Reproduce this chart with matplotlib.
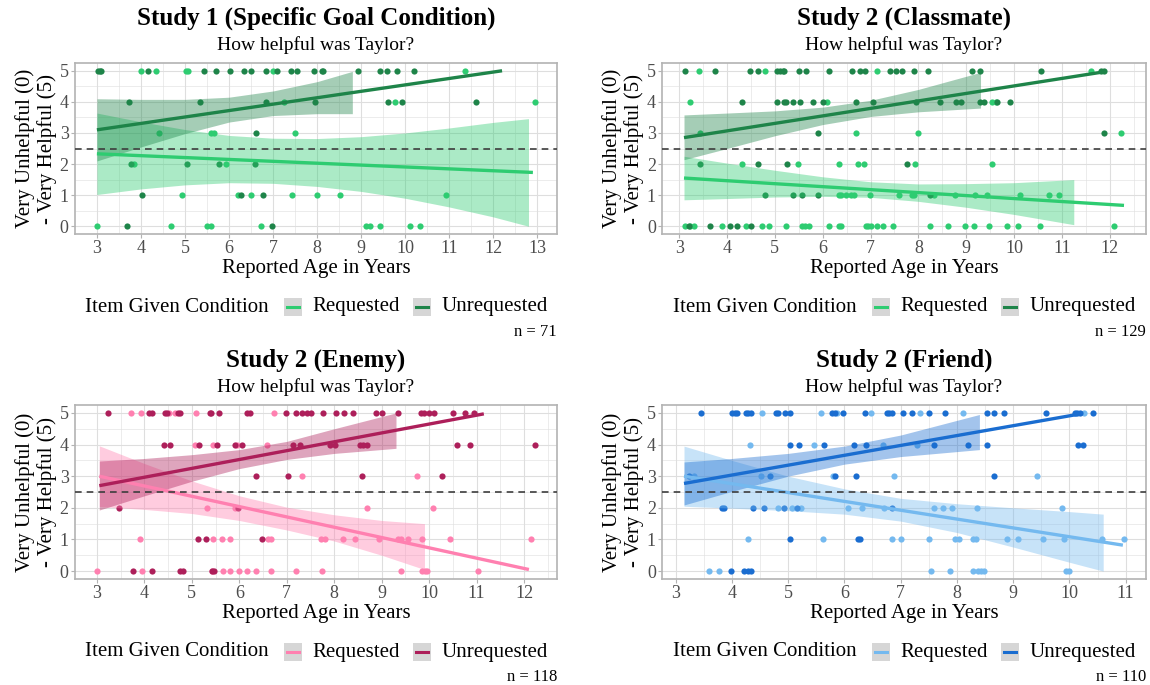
import numpy as np
import matplotlib.pyplot as plt
from matplotlib.patches import Rectangle
from matplotlib.lines import Line2D

plt.rcParams['font.family'] = ['Liberation Serif', 'DejaVu Serif']

# ---- Study 1 (Specific Goal Condition) ----
s1_req_age = [4.0, 4.34, 5.02, 5.07, 6.99, 11.35,
              7.25, 9.77, 12.95,
              4.42, 5.6, 5.67, 7.5,
              3.84, 5.93,
              4.93, 6.2, 6.5, 7.42, 8.0, 8.53, 10.93,
              3.0, 4.68, 5.5, 5.58, 6.73, 9.12, 9.2, 9.42, 10.1, 10.34]
s1_req_help = [5] * 6 + [4] * 3 + [3] * 4 + [2] * 2 + [1] * 7 + [0] * 10
s1_unr_age = [3.02, 3.06, 3.1, 4.16, 5.43, 5.7, 6.03, 6.34, 6.5, 6.84, 7.1,
              7.4, 7.54, 7.93, 8.1, 8.14, 8.93, 9.43, 9.59, 9.82, 10.19,
              3.72, 5.35, 6.85, 7.95, 9.6, 9.93, 11.6,
              6.62,
              3.78, 5.04, 5.77, 6.6,
              4.02, 6.28, 6.77,
              3.68, 6.98]
s1_unr_help = [5] * 21 + [4] * 7 + [3] * 1 + [2] * 4 + [1] * 3 + [0] * 2
s1_req_line_x = [3.0, 12.9]
s1_req_line_y = [2.33, 1.73]
s1_req_band_x = [3.0, 4, 5, 6, 7, 8, 9, 10, 11, 12, 12.8]
s1_req_band_lo = [1.02, 1.2, 1.33, 1.4, 1.38, 1.28, 1.12, 0.9, 0.62, 0.3, 0.0]
s1_req_band_hi = [3.64, 3.36, 3.11, 2.92, 2.83, 2.82, 2.88, 3.0, 3.16, 3.34, 3.46]
s1_unr_line_x = [3.0, 12.2]
s1_unr_line_y = [3.1, 5.0]
s1_unr_band_x = [3.0, 4, 5, 6, 7, 8, 8.8]
s1_unr_band_lo = [2.1, 2.55, 2.98, 3.35, 3.56, 3.62, 3.62]
s1_unr_band_hi = [4.1, 4.08, 4.08, 4.15, 4.35, 4.65, 4.98]

# ---- Study 2 (Classmate) ----
s2_req_age = [3.41, 4.8, 7.14, 11.6,
              3.23, 6.1, 9.54, 9.62,
              3.44, 6.69, 8.0, 12.23,
              4.32, 5.49, 6.35, 6.73, 6.87, 7.92, 9.54,
              6.35, 6.39, 6.48, 6.59, 6.65, 6.98, 7.59, 7.86, 7.91, 8.32,
              8.77, 9.19, 9.43, 10.13, 10.74, 10.94,
              3.12, 3.23, 3.3, 3.89, 4.39, 4.73, 4.88, 5.24, 5.56, 5.64,
              5.71, 6.13, 6.35, 6.39, 6.91, 6.95, 7.0, 7.14, 7.26, 7.46,
              8.25, 8.62, 8.98, 9.17, 9.47, 9.86, 10.08, 10.54, 12.1]
s2_req_help = [5] * 4 + [4] * 4 + [3] * 4 + [2] * 7 + [1] * 16 + [0] * 29
s2_unr_age = [3.12, 3.75, 4.49, 4.65, 5.05, 5.11, 5.17, 5.2, 5.5, 5.65, 6.14,
              6.62, 6.77, 6.89, 7.4, 7.53, 7.66, 7.91, 8.2, 9.13, 9.28,
              10.56, 11.82, 11.88,
              4.32, 5.05, 5.2, 5.24, 5.38, 5.53, 5.79, 6.01, 6.69, 7.05,
              7.95, 8.45, 8.79, 8.89, 9.28, 9.38, 9.65, 9.92,
              5.9, 11.89,
              3.44, 4.65, 5.26, 7.76,
              4.8, 5.38, 5.56, 5.9, 8.25,
              3.2, 3.64, 4.06, 4.21, 4.51]
s2_unr_help = [5] * 24 + [4] * 18 + [3] * 2 + [2] * 4 + [1] * 5 + [0] * 5
s2_req_line_x = [3.1, 12.3]
s2_req_line_y = [1.55, 0.67]
s2_req_band_x = [3.1, 4, 5, 6, 7, 8, 9, 10, 11.25]
s2_req_band_lo = [0.85, 0.89, 0.94, 0.96, 0.93, 0.8, 0.61, 0.38, 0.05]
s2_req_band_hi = [2.25, 2.03, 1.8, 1.59, 1.43, 1.36, 1.37, 1.4, 1.5]
s2_unr_line_x = [3.1, 11.9]
s2_unr_line_y = [2.85, 4.97]
s2_unr_band_x = [3.1, 4, 5, 6, 7, 8, 9.3]
s2_unr_band_lo = [2.14, 2.5, 2.91, 3.27, 3.53, 3.68, 3.8]
s2_unr_band_hi = [3.58, 3.64, 3.71, 3.83, 4.05, 4.4, 4.95]

# ---- Study 2 (Enemy) ----
s3_req_age = [3.72, 3.93, 4.51, 4.65, 5.09, 6.74,
              5.07, 5.45, 5.96, 6.59,
              7.31, 9.75,
              5.31, 5.9, 8.68, 10.08,
              3.9, 5.45, 5.64, 5.81, 6.61, 6.66, 7.73, 7.8, 8.18, 8.43,
              8.94, 9.35, 9.4, 9.55, 9.84, 10.44, 12.15,
              3.0, 3.94, 5.43, 5.65, 5.8, 5.99, 6.17, 6.36, 6.66, 7.19,
              7.75, 9.4, 9.84, 9.91, 9.95, 11.02]
s3_req_help = [5] * 6 + [4] * 4 + [3] * 2 + [2] * 4 + [1] * 17 + [0] * 16
s3_unr_age = [3.24, 4.1, 4.15, 4.44, 4.48, 4.7, 4.74, 5.39, 5.41, 5.58, 6.17,
              6.23, 6.99, 7.2, 7.31, 7.42, 7.5, 7.76, 8.03, 8.2, 8.39, 8.87,
              9.0, 9.34, 9.82, 9.89, 9.99, 10.1, 10.5, 10.75, 10.94,
              4.41, 4.53, 5.16, 5.54, 5.9, 6.05, 7.14, 7.27, 7.9, 8.01,
              8.55, 8.6, 8.68, 10.58, 10.86, 12.23,
              6.36, 7.02, 8.59, 10.27,
              3.47, 5.98,
              5.12, 5.29, 6.47,
              3.75, 4.15, 4.74, 4.82, 5.43, 5.47]
s3_unr_help = [5] * 31 + [4] * 16 + [3] * 4 + [2] * 2 + [1] * 3 + [0] * 6
s3_req_line_x = [3.05, 12.1]
s3_req_line_y = [3.0, 0.05]
s3_req_band_x = [3.05, 4, 5, 6, 7, 8, 9, 9.9]
s3_req_band_lo = [2.04, 1.95, 1.82, 1.6, 1.3, 0.95, 0.5, 0.05]
s3_req_band_hi = [3.96, 3.4, 2.85, 2.38, 2.02, 1.78, 1.6, 1.5]
s3_unr_line_x = [3.05, 11.15]
s3_unr_line_y = [2.7, 4.97]
s3_unr_band_x = [3.05, 4, 5, 6, 7, 8, 9.3]
s3_unr_band_lo = [1.93, 2.38, 2.84, 3.24, 3.53, 3.72, 3.88]
s3_unr_band_hi = [3.48, 3.56, 3.68, 3.84, 4.1, 4.5, 5.0]

# ---- Study 2 (Friend) ----
s4_req_age = [4.53, 5.58, 5.87, 6.47, 7.34, 8.1, 10.26,
              4.32, 5.46, 6.68, 7.29,
              3.33, 4.52, 5.79, 6.89, 9.42,
              4.82, 5.07, 5.23, 6.06, 6.31, 6.71, 7.59, 7.76, 7.92, 8.35, 9.87,
              4.29, 5.62, 6.85, 7.0, 7.51, 7.97, 8.03, 8.29, 8.34, 8.89,
              9.08, 9.53, 9.91, 10.58, 10.97,
              3.59, 3.78, 7.54, 7.87, 8.29, 8.38, 8.43, 8.48, 9.94, 9.99]
s4_req_help = [5] * 7 + [4] * 4 + [3] * 5 + [2] * 11 + [1] * 15 + [0] * 10
s4_unr_age = [3.46, 4.0, 4.05, 4.1, 4.25, 4.29, 4.34, 4.78, 4.82, 4.94, 5.03,
              5.78, 5.83, 5.97, 6.36, 6.75, 6.8, 6.85, 7.04, 7.2, 7.5, 7.78,
              8.54, 8.66, 8.83, 9.59, 10.1, 10.13, 10.18, 10.42,
              5.03, 5.2, 5.63, 6.18, 6.38, 7.6, 8.2, 8.54, 10.15, 10.25,
              3.24, 4.68, 5.83, 6.2, 8.66,
              3.82, 3.86, 4.38, 4.58, 4.93, 5.15, 6.85,
              5.04, 6.25, 6.28,
              3.99, 4.22, 4.29, 4.34]
s4_unr_help = [5] * 30 + [4] * 10 + [3] * 5 + [2] * 7 + [1] * 3 + [0] * 4
s4_req_line_x = [3.15, 10.95]
s4_req_line_y = [3.0, 0.82]
s4_req_band_x = [3.15, 4, 5, 6, 7, 8, 9, 10, 10.6]
s4_req_band_lo = [2.05, 1.99, 1.91, 1.8, 1.58, 1.22, 0.76, 0.28, 0.0]
s4_req_band_hi = [3.95, 3.5, 3.0, 2.6, 2.3, 2.13, 2.0, 1.88, 1.8]
s4_unr_line_x = [3.15, 10.2]
s4_unr_line_y = [2.77, 4.97]
s4_unr_band_x = [3.15, 4, 5, 6, 7, 8.4]
s4_unr_band_lo = [2.09, 2.52, 3.0, 3.38, 3.62, 3.84]
s4_unr_band_hi = [3.45, 3.56, 3.72, 3.95, 4.3, 4.95]

titles = ["Study 1 (Specific Goal Condition)", "Study 2 (Classmate)",
          "Study 2 (Enemy)", "Study 2 (Friend)"]
n_labels = ["n = 71", "n = 129", "n = 118", "n = 110"]
req_colors = ["#2ECC71", "#2ECC71", "#FF80B0", "#74B9EF"]
unr_colors = ["#1E8449", "#1E8449", "#AD1F5A", "#1A6DD0"]

panels = [
    (s1_req_age, s1_req_help, s1_unr_age, s1_unr_help,
     s1_req_line_x, s1_req_line_y, s1_req_band_x, s1_req_band_lo, s1_req_band_hi,
     s1_unr_line_x, s1_unr_line_y, s1_unr_band_x, s1_unr_band_lo, s1_unr_band_hi),
    (s2_req_age, s2_req_help, s2_unr_age, s2_unr_help,
     s2_req_line_x, s2_req_line_y, s2_req_band_x, s2_req_band_lo, s2_req_band_hi,
     s2_unr_line_x, s2_unr_line_y, s2_unr_band_x, s2_unr_band_lo, s2_unr_band_hi),
    (s3_req_age, s3_req_help, s3_unr_age, s3_unr_help,
     s3_req_line_x, s3_req_line_y, s3_req_band_x, s3_req_band_lo, s3_req_band_hi,
     s3_unr_line_x, s3_unr_line_y, s3_unr_band_x, s3_unr_band_lo, s3_unr_band_hi),
    (s4_req_age, s4_req_help, s4_unr_age, s4_unr_help,
     s4_req_line_x, s4_req_line_y, s4_req_band_x, s4_req_band_lo, s4_req_band_hi,
     s4_unr_line_x, s4_unr_line_y, s4_unr_band_x, s4_unr_band_lo, s4_unr_band_hi),
]

W, H = 1150, 685
fig = plt.figure(figsize=(W / 100, H / 100), dpi=100)

# axes boxes in pixels: left, right, top, bottom
boxes = [(75, 557, 63, 234), (662, 1146, 63, 234),
         (75, 557, 405, 579), (662, 1146, 405, 579)]


def fy(py):
    return 1 - py / H


for i in range(4):
    (ra, rh, ua, uh, rlx, rly, rbx, rblo, rbhi,
     ulx, uly, ubx, ublo, ubhi) = panels[i]
    l, r, t, b = boxes[i]
    ax = fig.add_axes([l / W, fy(b), (r - l) / W, (b - t) / H])
    light, dark = req_colors[i], unr_colors[i]

    ax.scatter(ra, rh, s=20, color=light, linewidths=0, zorder=2)
    ax.scatter(ua, uh, s=20, color=dark, linewidths=0, zorder=2)
    ax.fill_between(rbx, rblo, rbhi, color=light, alpha=0.4, linewidth=0, zorder=3)
    ax.fill_between(ubx, ublo, ubhi, color=dark, alpha=0.4, linewidth=0, zorder=3)
    ax.plot(rlx, rly, color=light, lw=2.4, zorder=4, solid_capstyle='butt')
    ax.plot(ulx, uly, color=dark, lw=2.4, zorder=4, solid_capstyle='butt')
    ax.axhline(2.5, color='#3d3d3d', lw=1.2, ls=(0, (4, 3)), zorder=5)

    ax.set_ylim(-0.25, 5.25)
    ax.margins(x=0.05)
    xmin, xmax = ax.get_xlim()
    ax.set_xticks(np.arange(np.ceil(xmin), np.floor(xmax) + 1))
    ax.set_xticks(np.arange(np.ceil(xmin) - 0.5, xmax, 1.0), minor=True)
    ax.set_yticks(range(6))
    ax.set_yticks(np.arange(0.5, 5, 1.0), minor=True)
    ax.set_xlim(xmin, xmax)
    ax.grid(which='major', color='#dedede', lw=0.8)
    ax.grid(which='minor', color='#dedede', lw=0.4)
    ax.set_axisbelow(True)
    for sp in ax.spines.values():
        sp.set_color('#b3b3b3')
        sp.set_linewidth(1.2)
    ax.tick_params(which='major', length=3, width=0.8, color='#b3b3b3',
                   labelsize=13, labelcolor='#4d4d4d', pad=1.5)
    ax.tick_params(which='minor', length=0)

    ax.set_xlabel("Reported Age in Years", fontsize=15, labelpad=1)
    ax.set_ylabel("Very Unhelpful (0)\n- Very Helpful (5)", fontsize=15,
                  labelpad=2, linespacing=1.12)

    cx = (l + r) / 2
    fig.text(cx / W, fy(t - 45), titles[i], ha='center', va='center',
             fontsize=18, fontweight='bold')
    fig.text(cx / W, fy(t - 18), "How helpful was Taylor?", ha='center',
             va='center', fontsize=14)
    fig.text(r / W, fy(b + 98), n_labels[i], ha='right', va='center', fontsize=12)

    # legend row, laid out relative to the panel centre
    ly = b + 73
    fig.text((cx - 231) / W, fy(ly), "Item Given Condition", ha='left',
             va='center', fontsize=15)
    for k, (col, lab) in enumerate([(light, "Requested"), (dark, "Unrequested")]):
        kx = cx - 32 + k * 129
        fig.add_artist(Rectangle((kx / W, fy(ly + 9)), 18 / W, 18 / H,
                                 transform=fig.transFigure, facecolor='#d6d6d6',
                                 edgecolor='none'))
        fig.add_artist(Line2D([(kx + 3) / W, (kx + 15) / W], [fy(ly), fy(ly)],
                              transform=fig.transFigure, color=col, lw=2.2))
        fig.text((kx + 28) / W, fy(ly), lab, ha='left', va='center', fontsize=15)

fig.savefig("out.png", dpi=100)
